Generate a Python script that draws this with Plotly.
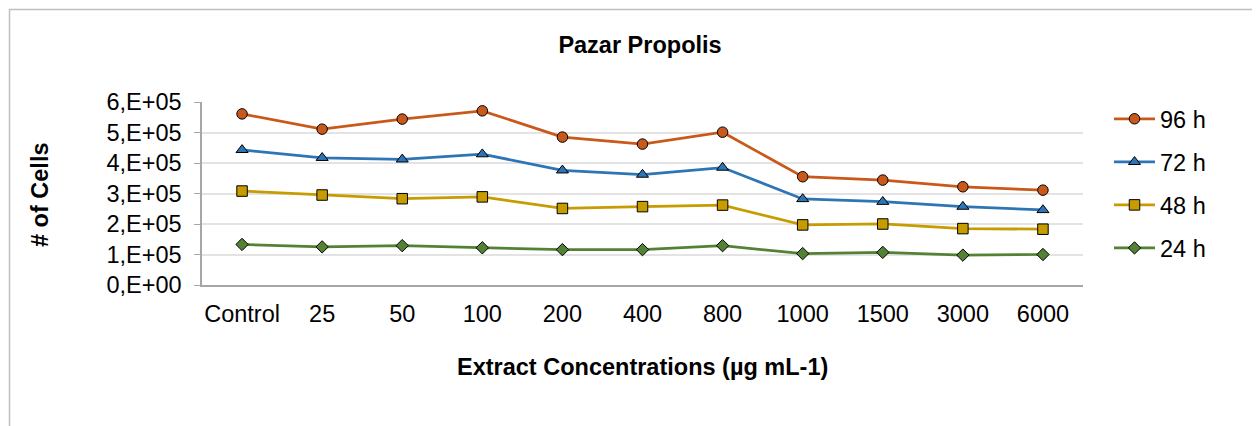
import plotly.graph_objects as go

categories = ["Control", "25", "50", "100", "200", "400", "800", "1000", "1500", "3000", "6000"]
h96 = [5.61e5, 5.11e5, 5.44e5, 5.71e5, 4.85e5, 4.62e5, 5.01e5, 3.55e5, 3.44e5, 3.22e5, 3.11e5]
h72 = [4.43e5, 4.17e5, 4.12e5, 4.29e5, 3.76e5, 3.62e5, 3.85e5, 2.82e5, 2.73e5, 2.57e5, 2.46e5]
h48 = [3.08e5, 2.95e5, 2.83e5, 2.89e5, 2.51e5, 2.57e5, 2.62e5, 1.97e5, 2.00e5, 1.85e5, 1.83e5]
h24 = [1.33e5, 1.25e5, 1.29e5, 1.22e5, 1.16e5, 1.16e5, 1.29e5, 1.03e5, 1.07e5, 0.98e5, 1.00e5]
series_names = ["96 h", "72 h", "48 h", "24 h"]
y_tickvals = [0, 1e5, 2e5, 3e5, 4e5, 5e5, 6e5]
y_ticktext = ["0,E+00", "1,E+05", "2,E+05", "3,E+05", "4,E+05", "5,E+05", "6,E+05"]

FONT = "Liberation Sans, Arial, sans-serif"
FS = 23.5
styles = [
    ("#C9591B", "circle", 10.5),
    ("#2E75B6", "triangle-up", 10.5),
    ("#C69C00", "square", 10.5),
    ("#548235", "diamond", 9.5),
]

fig = go.Figure()
for name, vals, (col, sym, sz) in zip(series_names, [h96, h72, h48, h24], styles):
    fig.add_trace(go.Scatter(
        x=categories, y=vals, name=name, mode="lines+markers",
        legendgroup=name,
        line=dict(color=col, width=2.75),
        marker=dict(symbol=sym, size=sz, color=col, line=dict(color="black", width=1)),
    ))

# page body has an 8px margin; reference pixel coords are shifted by it
OFF = 8
W, H = 1260 - OFF, 426 - OFF
L, T = 202 - OFF, 102 - OFF
R = W - (1083 - OFF)
B = H - (285 - OFF)
pw, ph = W - L - R, H - T - B

def px_x(p):
    return (p - OFF - L) / pw

def px_y(p):
    return (H - B - (p - OFF)) / ph

fig.update_layout(
    width=W, height=H,
    margin=dict(l=L, r=R, t=T, b=B),
    paper_bgcolor="white", plot_bgcolor="white",
    font=dict(family=FONT, size=FS, color="black"),
    title=dict(text="<b>Pazar Propolis</b>", x=(640 - OFF) / W, y=1 - (45 - OFF) / H,
               xanchor="center", yanchor="middle", xref="container", yref="container",
               font=dict(size=FS, family=FONT, color="black")),
    showlegend=True,
    legend=dict(x=px_x(1109), y=px_y(97), xanchor="left", yanchor="top",
                font=dict(size=FS, family=FONT), tracegroupgap=9.5, itemwidth=41,
                traceorder="grouped", bgcolor="rgba(0,0,0,0)"),
    xaxis=dict(type="category", range=[-0.5, 10.5], showgrid=False,
               showline=True, linecolor="#A6A6A6", linewidth=1.5,
               ticks="", tickfont=dict(size=FS), ticklabelstandoff=7,
               fixedrange=True),
    yaxis=dict(range=[0, 6e5], tickvals=y_tickvals, ticktext=y_ticktext,
               showgrid=True, gridcolor="#E3E3E3", gridwidth=1.5,
               showline=True, linecolor="#A6A6A6", linewidth=1.5,
               ticks="outside", ticklen=6, tickcolor="#A6A6A6",
               tickfont=dict(size=FS), ticklabelstandoff=8, zeroline=False,
               fixedrange=True),
    annotations=[
        dict(text="<b># of Cells</b>", x=px_x(40), y=px_y(195), xref="paper", yref="paper",
             textangle=-90, showarrow=False, font=dict(size=FS, family=FONT),
             xanchor="center", yanchor="middle"),
        dict(text="<b>Extract Concentrations (µg mL-1)</b>", x=px_x(642), y=px_y(367),
             xref="paper", yref="paper", showarrow=False, font=dict(size=FS, family=FONT),
             xanchor="center", yanchor="middle"),
    ],
    shapes=[
        dict(type="rect", xref="paper", yref="paper",
             x0=px_x(9.5), x1=px_x(1300), y0=px_y(9.5), y1=px_y(460),
             line=dict(color="#BFBFBF", width=1.5), fillcolor="rgba(0,0,0,0)", layer="below"),
    ],
)

fig.write_html("out.html")
